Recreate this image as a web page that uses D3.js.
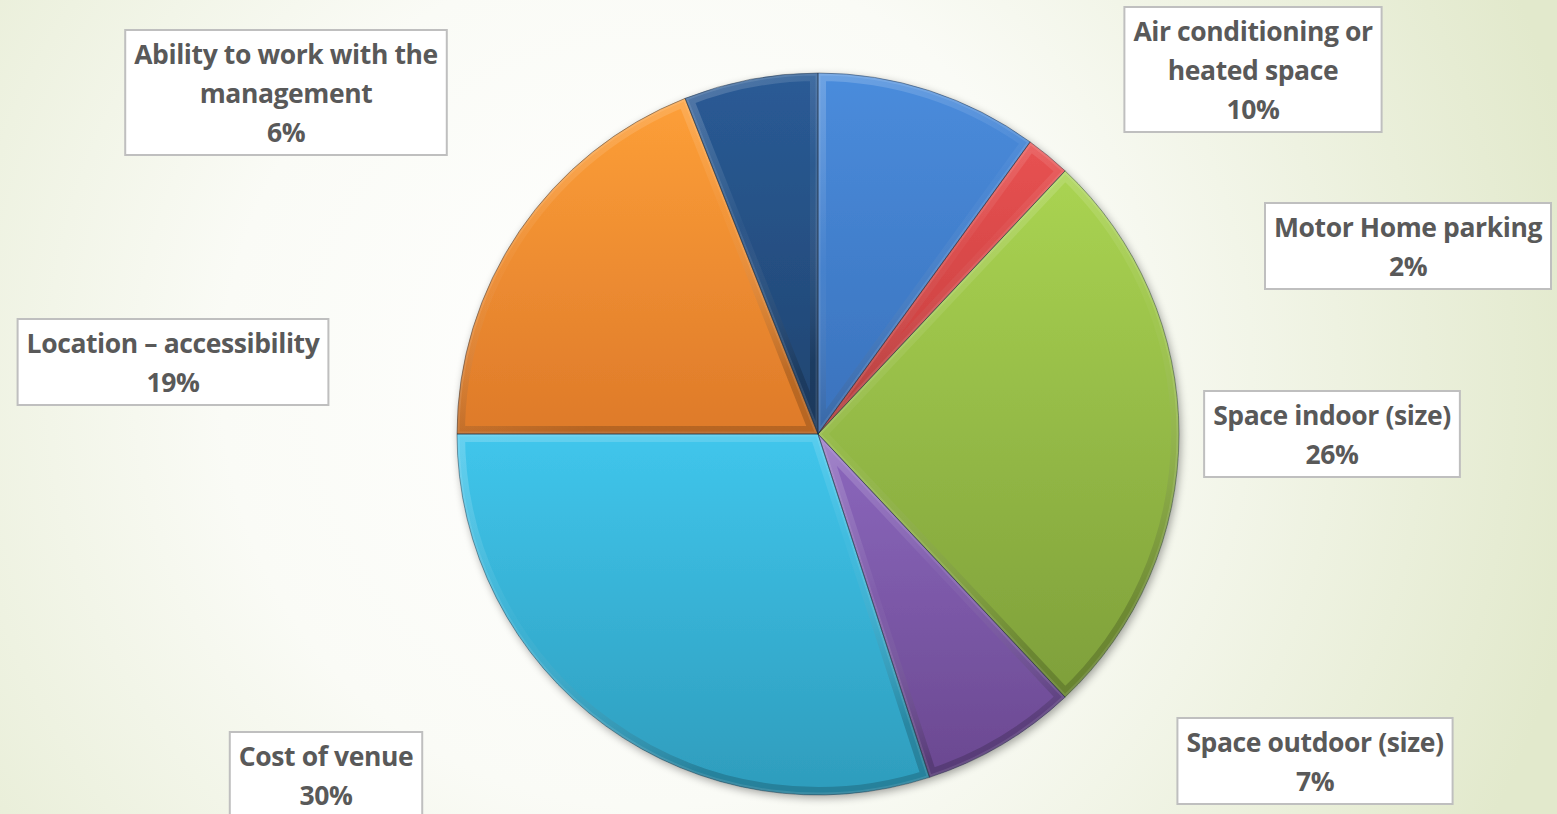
<!DOCTYPE html>
<html>
<head>
<meta charset="utf-8">
<script src="https://cdn.jsdelivr.net/npm/d3@7"></script>
<style>
  html, body { margin: 0; padding: 0; overflow: hidden; }
  svg { display: block; }
</style>
</head>
<body>
<svg id="chart" width="1557" height="814"></svg>
<script>
// Venue selection factors (share of responses)
const categories = [
  "Air conditioning or heated space",
  "Motor Home parking",
  "Space indoor (size)",
  "Space outdoor (size)",
  "Cost of venue",
  "Location – accessibility",
  "Ability to work with the management"
];
const values = [10, 2, 26, 7, 30, 19, 6];
const valueLabels = ["10%", "2%", "26%", "7%", "30%", "19%", "6%"];

// label text split into lines as laid out in the boxes
const labelLines = [
  ["Air conditioning or", "heated space"],
  ["Motor Home parking"],
  ["Space indoor (size)"],
  ["Space outdoor (size)"],
  ["Cost of venue"],
  ["Location – accessibility"],
  ["Ability to work with the", "management"]
];

// slice colours: [light top, dark bottom] over each slice's own height
const sliceColors = [
  ["#4a8cdc", "#3a72bc"],
  ["#e85252", "#c23b3b"],
  ["#aad452", "#7e9f3a"],
  ["#8c68be", "#6a4890"],
  ["#40c6ec", "#2e9cbc"],
  ["#fd9f38", "#de7a2a"],
  ["#2a5b96", "#20446f"]
];

// label box centres (x) and top (y)
const labelPos = [
  [1253, 7], [1408, 203], [1332, 391], [1315, 718], [326, 732], [173, 319], [286, 30]
];

const W = 1557, H = 814;
const cx = 818, cy = 434, R = 361;

const svg = d3.select("#chart");
const defs = svg.append("defs");

// background wash
const bg = defs.append("radialGradient").attr("id", "bg")
  .attr("gradientUnits", "userSpaceOnUse")
  .attr("cx", 650).attr("cy", 380).attr("r", 950)
  .attr("fx", 650).attr("fy", 380);
bg.append("stop").attr("offset", "0").attr("stop-color", "#ffffff");
bg.append("stop").attr("offset", "0.45").attr("stop-color", "#fafbf6");
bg.append("stop").attr("offset", "1").attr("stop-color", "#e2e9cc");
svg.append("rect").attr("width", W).attr("height", H).attr("fill", "url(#bg)");

// drop shadow under the pie
const sh = defs.append("filter").attr("id", "shadow")
  .attr("x", "-10%").attr("y", "-10%").attr("width", "120%").attr("height", "120%");
sh.append("feGaussianBlur").attr("in", "SourceAlpha").attr("stdDeviation", 4);
sh.append("feOffset").attr("dx", 2).attr("dy", 3).attr("result", "b");
sh.append("feComponentTransfer").append("feFuncA").attr("type", "linear").attr("slope", 0.35);
const shm = sh.append("feMerge");
shm.append("feMergeNode");
shm.append("feMergeNode").attr("in", "SourceGraphic");

sliceColors.forEach((c, i) => {
  const g = defs.append("linearGradient").attr("id", "g" + i)
    .attr("x1", 0).attr("y1", 0).attr("x2", 0).attr("y2", 1);
  g.append("stop").attr("offset", "0").attr("stop-color", c[0]);
  g.append("stop").attr("offset", "1").attr("stop-color", c[1]);
});

// bevel edge: light along the upper rims, dark along lower rims
const bev = defs.append("linearGradient").attr("id", "bevel")
  .attr("gradientUnits", "objectBoundingBox")
  .attr("x1", 0).attr("y1", 0).attr("x2", 0.3).attr("y2", 1);
bev.append("stop").attr("offset", "0").attr("stop-color", "#ffffff").attr("stop-opacity", 0.2);
bev.append("stop").attr("offset", "0.5").attr("stop-color", "#ffffff").attr("stop-opacity", 0.03);
bev.append("stop").attr("offset", "1").attr("stop-color", "#000000").attr("stop-opacity", 0.18);

const pie = d3.pie().sort(null).value(d => d)
  .startAngle(0).endAngle(2 * Math.PI);
const arcs = pie(values);
const arc = d3.arc().innerRadius(0).outerRadius(R);

const g = svg.append("g").attr("transform", `translate(${cx},${cy})`);
const pieG = g.append("g").attr("filter", "url(#shadow)");

arcs.forEach((a, i) => {
  defs.append("clipPath").attr("id", "clip" + i)
    .attr("transform", `translate(${cx},${cy})`)
    .append("path").attr("d", arc(a));
});

pieG.selectAll("path.slice").data(arcs).join("path")
  .attr("class", "slice")
  .attr("d", arc)
  .attr("fill", (d, i) => `url(#g${i})`);

// inner bevel band clipped to each slice
arcs.forEach((a, i) => {
  const wrap = svg.append("g").attr("clip-path", `url(#clip${i})`);
  wrap.append("path")
    .attr("transform", `translate(${cx},${cy})`)
    .attr("d", arc(a))
    .attr("fill", "none")
    .attr("stroke", "url(#bevel)")
    .attr("stroke-width", 16)
    .attr("stroke-linejoin", "round");
  wrap.append("path")
    .attr("transform", `translate(${cx},${cy})`)
    .attr("d", arc(a))
    .attr("fill", "none")
    .attr("stroke", "#ffffff")
    .attr("stroke-opacity", 0.1)
    .attr("stroke-width", 5)
    .attr("stroke-linejoin", "round");
});

// thin dark seams between slices
svg.append("g").attr("transform", `translate(${cx},${cy})`)
  .selectAll("path").data(arcs).join("path")
  .attr("d", arc)
  .attr("fill", "none")
  .attr("stroke", "#1d2a3a")
  .attr("stroke-opacity", 0.45)
  .attr("stroke-width", 1);

// data label boxes
const fontSize = 26.5, lineH = 39, padX = 9;
const labG = svg.append("g")
  .attr("font-family", "'Open Sans', Lato, sans-serif")
  .attr("font-weight", "bold")
  .attr("font-size", fontSize)
  .attr("fill", "#595959");

categories.forEach((cat, i) => {
  const lines = labelLines[i].concat([valueLabels[i]]);
  const [x, top] = labelPos[i];
  const box = labG.append("rect").attr("fill", "#ffffff")
    .attr("stroke", "#bfbfbf").attr("stroke-width", 2);
  const texts = lines.map((t, k) => labG.append("text")
    .attr("x", x).attr("y", top + 25 + k * lineH)
    .attr("dy", "0.35em")
    .attr("text-anchor", "middle")
    .attr("letter-spacing", -0.4)
    .text(t));
  const wMax = d3.max(texts, t => t.node().getComputedTextLength());
  const bw = wMax + 2 * padX;
  const bh = lines.length * lineH + 8;
  box.attr("x", x - bw / 2).attr("y", top).attr("width", bw).attr("height", bh);
});
</script>
</body>
</html>
